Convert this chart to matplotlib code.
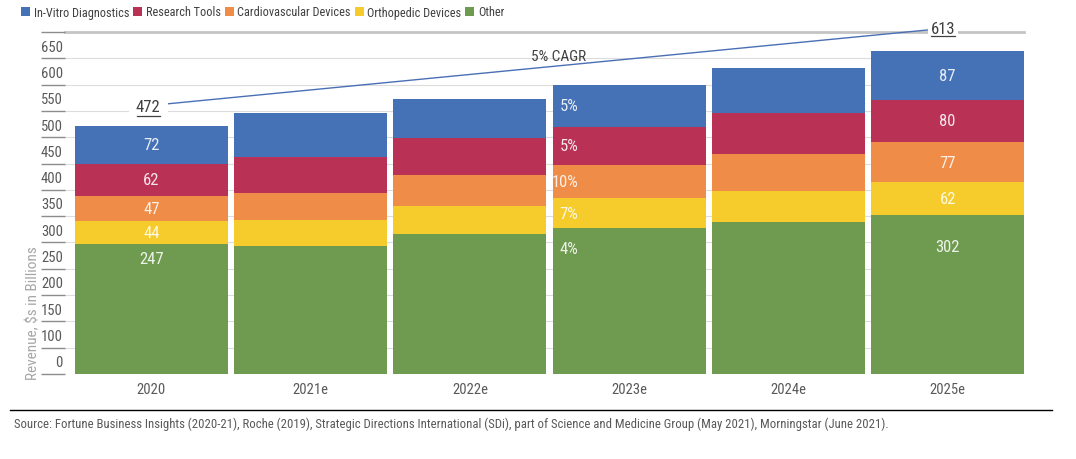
import matplotlib
matplotlib.use("Agg")
import matplotlib.pyplot as plt
from matplotlib import font_manager
from matplotlib.lines import Line2D
import numpy as np

# Data ($ billions)
years = ["2020", "2021e", "2022e", "2023e", "2024e", "2025e"]
other = [247, 243, 267, 277, 288, 302]
orthopedic = [44, 50, 53, 57, 60, 62]
cardiovascular = [47, 51, 58, 64, 71, 77]
research_tools = [62, 69, 70, 72, 77, 80]
in_vitro = [72, 84, 75, 80, 85, 92]

# printed labels (bottom to top)
labels_2020 = ["247", "44", "47", "62", "72"]
labels_2025 = ["302", "62", "77", "80", "87"]
growth_2023 = ["4%", "7%", "10%", "5%", "5%"]
total_start = "472"
total_end = "613"
cagr_text = "5% CAGR"

ytick_values = list(range(0, 651, 50))
ytick_labels = ["0", "100", "150", "200", "250", "300", "350", "400",
                "450", "500", "550", "600", "650"]

segments = ["Other", "Orthopedic Devices", "Cardiovascular Devices",
            "Research Tools", "In-Vitro Diagnostics"]
colors = ["#6f9b50", "#f5cc2c", "#ef8c47", "#b93256", "#4571b6"]

source = ("Source: Fortune Business Insights (2020-21), Roche (2019), Strategic Directions "
          "International (SDi), part of Science and Medicine Group (May 2021), Morningstar (June 2021).")

# pick a condensed sans face if one is installed
fonts = font_manager.fontManager.ttflist
narrow = [f for f in fonts
          if ("Condensed" in f.name or "Narrow" in f.name or f.stretch in ("condensed", "semi-condensed"))
          and "Mono" not in f.name and "Serif" not in f.name and f.style == "normal"]
pref = ["Roboto Condensed", "Liberation Sans Narrow", "DejaVu Sans"]
narrow.sort(key=lambda f: (pref.index(f.name) if f.name in pref else 9, f.weight != 400))
if narrow:
    plt.rcParams['font.family'] = [narrow[0].name, 'DejaVu Sans']
    plt.rcParams['font.stretch'] = narrow[0].stretch
    scale = 1.0
else:
    plt.rcParams['font.family'] = ['Roboto', 'DejaVu Sans']
    scale = 0.84

W, H = 1076, 460
fig = plt.figure(figsize=(W / 100, H / 100), dpi=100)
left, right, top, bottom = 65, 1024, 33, 375
ax = fig.add_axes([left / W, 1 - bottom / H, (right - left) / W, (bottom - top) / H])

x = np.arange(len(years))
series = [other, orthopedic, cardiovascular, research_tools, in_vitro]
base = np.zeros(len(years))
bars = []
for vals, col in zip(series, colors):
    b = ax.bar(x, vals, bottom=base, width=0.96, color=col, linewidth=0, zorder=2)
    bars.append(b)
    base = base + np.array(vals)

ax.set_xlim(-0.543, 5.48)
ax.set_ylim(0, 650)

# gridlines
for v in ytick_values[:-1]:
    ax.axhline(v, color="#dcdcdc", lw=0.8, zorder=0)
ax.axhline(650, color="#c4c4c4", lw=2, zorder=1, clip_on=False)

for s in ax.spines.values():
    s.set_visible(False)

# y axis: dashes at gridlines, labels between them
ax.set_yticks(ytick_values)
ax.set_yticklabels([])
ax.tick_params(axis="y", which="major", length=17, width=1, color="#8c8c8c", direction="out")
mids = [v + 25 for v in ytick_values[:-1]]
ax.set_yticks(mids, ytick_labels, minor=True)
ax.tick_params(axis="y", which="minor", length=0, pad=1.5, labelsize=10.5 * scale,
               labelcolor="#595959")

ax.set_xticks(x, years)
ax.tick_params(axis="x", length=0, pad=6, labelsize=10.5 * scale, labelcolor="#595959")

# value labels for 2020 and 2025
txt_kw = dict(color="white", alpha=0.88, fontsize=12 * scale, ha="center", va="center", zorder=4)
for idx, labs, other_y in [(0, labels_2020, 219), (5, labels_2025, 243)]:
    bottoms = 0
    for k, (vals, lab) in enumerate(zip(series, labs)):
        v = vals[idx]
        yy = other_y if k == 0 else bottoms + v / 2
        ax.text(idx, yy, lab, **txt_kw)
        bottoms += v

# growth labels for 2023e
bottoms = 0
for k, (vals, lab) in enumerate(zip(series, growth_2023)):
    v = vals[3]
    yy = 239 if k == 0 else bottoms + v / 2
    ax.text(3 - 0.32, yy, lab, color="white", alpha=0.88, fontsize=12 * scale,
            ha="right", va="center", zorder=4)
    bottoms += v

# CAGR line and totals (underlined)
ax.plot([0.085, 4.88], [513, 654], color="#4a6fb5", lw=1, zorder=3, clip_on=False)
ax.text(-0.02, 509, total_start, fontsize=12 * scale, color="#404040", ha="center",
        va="center", zorder=4, bbox=dict(facecolor="white", edgecolor="none", pad=5))
ax.plot([-0.091, 0.054], [491, 491], color="#404040", lw=0.9, zorder=5)
ax.text(4.97, 657, total_end, fontsize=12 * scale, color="#404040", ha="center",
        va="center", zorder=4, clip_on=False,
        bbox=dict(facecolor="white", edgecolor="none", pad=2))
ax.plot([4.898, 5.044], [643, 643], color="#404040", lw=0.9, zorder=5, clip_on=False)
ax.text(2.558, 604, cagr_text, fontsize=11 * scale, color="#404040", ha="center",
        va="center", zorder=4)

# legend
order = [4, 3, 2, 1, 0]
fig.legend([bars[i] for i in order], [segments[i] for i in order],
           loc="center left", bbox_to_anchor=(21 / W, 1 - 13 / H), ncol=5,
           frameon=False, handlelength=0.75, handleheight=0.75, handletextpad=0.3,
           columnspacing=0.3, borderpad=0, borderaxespad=0, fontsize=8.8 * scale,
           labelcolor="#404040")

fig.text(33 / W, 1 - 313 / H, "Revenue, $s in Billions", rotation=90, ha="center",
         va="center", fontsize=11 * scale, color="#a6a6a6")

fig.add_artist(Line2D([10 / W, 1052 / W], [1 - 411 / H] * 2, color="black", lw=1))
fig.text(14 / W, 1 - 424 / H, source, ha="left", va="center", fontsize=9.15 * scale,
         color="#595959")

fig.savefig("out.png", dpi=100)
